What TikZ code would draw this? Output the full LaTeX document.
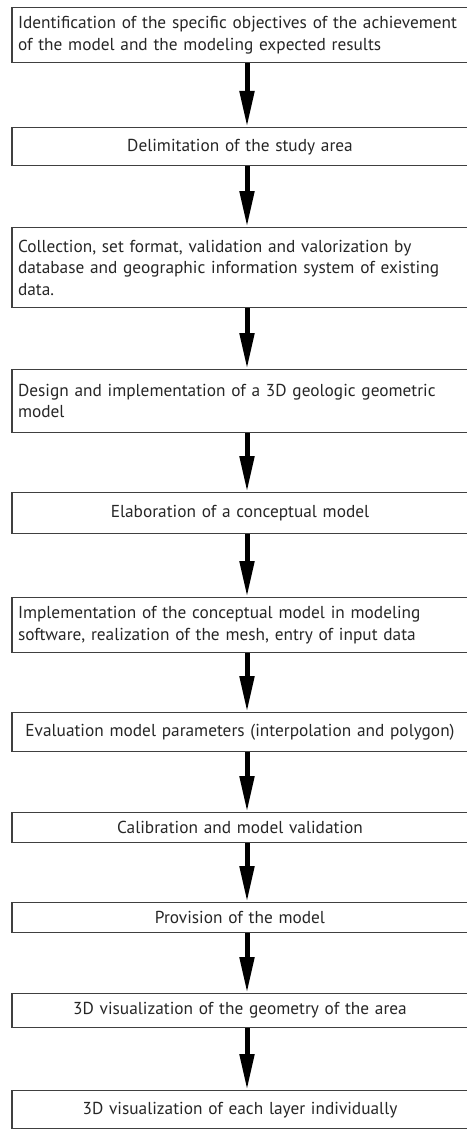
\documentclass[tikz,border=0pt]{standalone}
\usepackage{fontspec}
\setmainfont{PT Sans}
\usetikzlibrary{arrows.meta}
\begin{document}
\begin{tikzpicture}[x=1pt,y=-1pt,
    stepbox/.style={draw=black!75,line width=1.3pt,rectangle,anchor=north,
      text width=444pt,inner xsep=6pt,inner ysep=0pt,text=black!85,
      font=\fontsize{17.3}{21.5}\selectfont},
    flow/.style={line width=5pt,-{Triangle[length=36pt,width=14pt]}}]
    \useasboundingbox (0,0) rectangle (466,1129);
    \coordinate (ax) at (247,0);
    \node[stepbox,align=left,minimum height=55pt] (b1) at (240,7)
        {Identification of the specific objectives of the achievement\\of the model and the modeling expected results};
    \node[stepbox,align=center,minimum height=38pt] (b2) at (240,127) {Delimitation of the study area};
    \node[stepbox,align=left,minimum height=80pt] (b3) at (240,227)
        {Collection, set format, validation and valorization by\\database and geographic information system of existing\\data.};
    \node[stepbox,align=left,minimum height=63pt] (b4) at (240,369)
        {Design and implementation of a 3D geologic geometric\\model};
    \node[stepbox,align=center,minimum height=41pt] (b5) at (240,492) {Elaboration of a conceptual model};
    \node[stepbox,align=left,minimum height=55pt] (b6) at (240,597)
        {Implementation of the conceptual model in modeling\\software, realization of the mesh, entry of input data};
    \node[stepbox,align=center,minimum height=39pt] (b7) at (240,712)
        {Evaluation model parameters (interpolation and polygon)};
    \node[stepbox,align=center,minimum height=30pt] (b8) at (240,812) {Calibration and model validation};
    \node[stepbox,align=center,minimum height=30pt] (b9) at (240,902) {Provision of the model};
    \node[stepbox,align=center,minimum height=34pt] (b10) at (240,993) {3D visualization of the geometry of the area};
    \node[stepbox,align=center,minimum height=38pt] (b11) at (240,1090) {3D visualization of each layer individually};
    % arrows between the steps
    \foreach \a/\b in {b1/b2,b2/b3,b3/b4,b4/b5,b5/b6,b6/b7,b7/b8,b8/b9,b9/b10,b10/b11}
        \draw[flow] (\a.south -| ax) -- (\b.north -| ax);
\end{tikzpicture}
\end{document}
